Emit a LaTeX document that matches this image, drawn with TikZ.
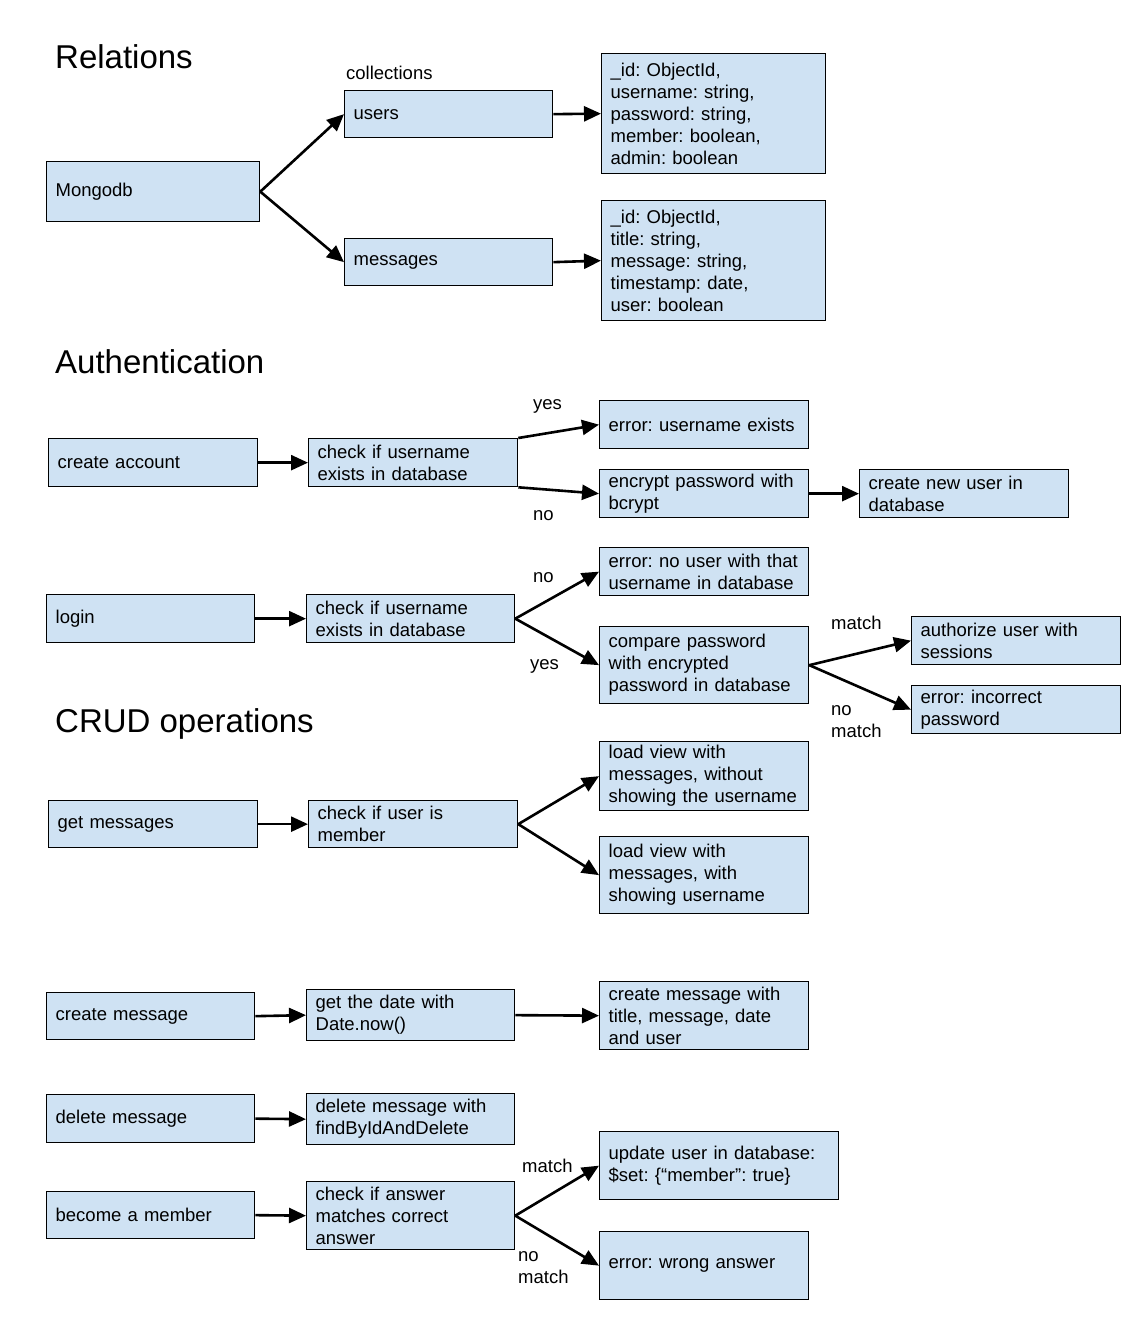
\documentclass[tikz,border=0pt]{standalone}
\usepackage{fontspec}
\setmainfont{Liberation Sans}
\usetikzlibrary{arrows.meta}
\definecolor{azzurroScatola}{HTML}{CFE2F3}
\newcommand{\corpotesto}{\fontsize{18.5}{22}\selectfont}
\frenchspacing

\begin{document}
\begin{tikzpicture}[x=1pt,y=-1pt,
  scatola/.style={draw=black,line width=1.3pt,fill=azzurroScatola,anchor=north west,
    align=left,inner xsep=9pt,inner ysep=0pt,font=\corpotesto},
  etichetta/.style={font=\corpotesto,anchor=base west,align=left,inner sep=0pt},
  titolo/.style={font=\fontsize{33}{38}\selectfont,anchor=base west,inner sep=0pt},
  freccia/.style={line width=2.6pt,-{Triangle[length=17pt,width=15pt]}}]
  \useasboundingbox (0,0) rectangle (1133,1322);
  % Titoli delle tre sezioni, allineati a sinistra.
  \node[titolo] (titRelazioni) at (55,69) {Relations};
  \node[titolo] (titAutenticazione) at (55,373) {Authentication};
  \node[titolo] (titCrud) at (55,732) {CRUD operations};
  % Tutte le caselle: nome/x/y/larghezza/altezza/testo, in pixel del disegno.
  \foreach \nome/\x/\y/\w/\h/\testo in {
      mongo/46/161/213/60/{Mongodb},
      utenti/344/90/208/47/{users},
      messaggi/344/238/208/47/{messages},
      campiUtenti/601/53/224/120/{\_id: ObjectId,\\username: string,\\password: string,\\member: boolean,\\admin: boolean},
      campiMessaggi/601/200/224/120/{\_id: ObjectId,\\title: string,\\message: string,\\timestamp: date,\\user: boolean},
      creaAccount/48/438/209/48/{create account},
      controllo/308/438/209/48/{check if username\\exists in database},
      erroreEsiste/599/400/209/48/{error: username exists},
      cripta/599/469/209/48/{encrypt password with\\bcrypt},
      nuovoUtente/859/469/209/48/{create new user in\\database},
      accesso/46/594/208/48/{login},
      verifica/306/594/208/48/{check if username\\exists in database},
      erroreNessuno/599/547/209/48/{error: no user with that\\username in database},
      confronta/599/626/209/77/{compare password\\with encrypted\\password in database},
      autorizza/911/616/209/48/{authorize user with\\sessions},
      erroreParola/911/685/209/48/{error: incorrect\\password},
      leggi/48/800/209/47/{get messages},
      membro/308/800/209/47/{check if user is\\member},
      vistaAnonima/599/741/209/69/{load view with\\messages, without\\showing the username},
      vistaNomi/599/836/209/77/{load view with\\messages, with\\showing username},
      creaMsg/46/992/208/47/{create message},
      data/306/989/208/51/{get the date with\\Date.now()},
      nuovoMsg/599/981/209/68/{create message with\\title, message, date\\and user},
      cancella/46/1094/208/48/{delete message},
      cancellaId/306/1093/208/51/{delete message with\\findByIdAndDelete},
      diventa/46/1191/208/47/{become a member},
      risposta/306/1181/208/68/{check if answer\\matches correct\\answer},
      aggiorna/599/1131/239/68/{update user in database:\\\$set: \{“member”: true\}},
      erroreRisposta/599/1231/209/68/{error: wrong answer}}{
    \pgfmathsetmacro{\larg}{\w-18}
    \node[scatola,text width=\larg pt,minimum height=\h pt] (\nome) at (\x,\y) {\testo};
  }
  % Scritte sui rami.
  \node[etichetta] (collezioni) at (346,79) {collections};
  \node[etichetta] (siEsiste) at (533,409) {yes};
  \node[etichetta] (noEsiste) at (533,520) {no};
  \node[etichetta] (noUtente) at (533,582) {no};
  \node[etichetta] (siUtente) at (530,669) {yes};
  \node[etichetta] (okParola) at (831,629) {match};
  \node[etichetta] (koParola) at (831,737) {no\\match};
  \node[etichetta] (okRisposta) at (522,1172) {match};
  \node[etichetta] (koRisposta) at (518,1283) {no\\match};
  % Frecce fra le caselle.
  \foreach \da/\a in {mongo.east/utenti.west,mongo.east/messaggi.west,
      utenti.east/campiUtenti.west,messaggi.east/campiMessaggi.west,
      creaAccount.east/controllo.west,controllo.north east/erroreEsiste.west,
      controllo.south east/cripta.west,cripta.east/nuovoUtente.west,
      accesso.east/verifica.west,verifica.east/erroreNessuno.west,
      verifica.east/confronta.west,confronta.east/autorizza.west,
      confronta.east/erroreParola.west,leggi.east/membro.west,
      membro.east/vistaAnonima.west,membro.east/vistaNomi.west,
      creaMsg.east/data.west,data.east/nuovoMsg.west,cancella.east/cancellaId.west,
      diventa.east/risposta.west,risposta.east/aggiorna.west,
      risposta.east/erroreRisposta.west}{
    \draw[freccia] (\da) -- (\a);
  }
\end{tikzpicture}
\end{document}
